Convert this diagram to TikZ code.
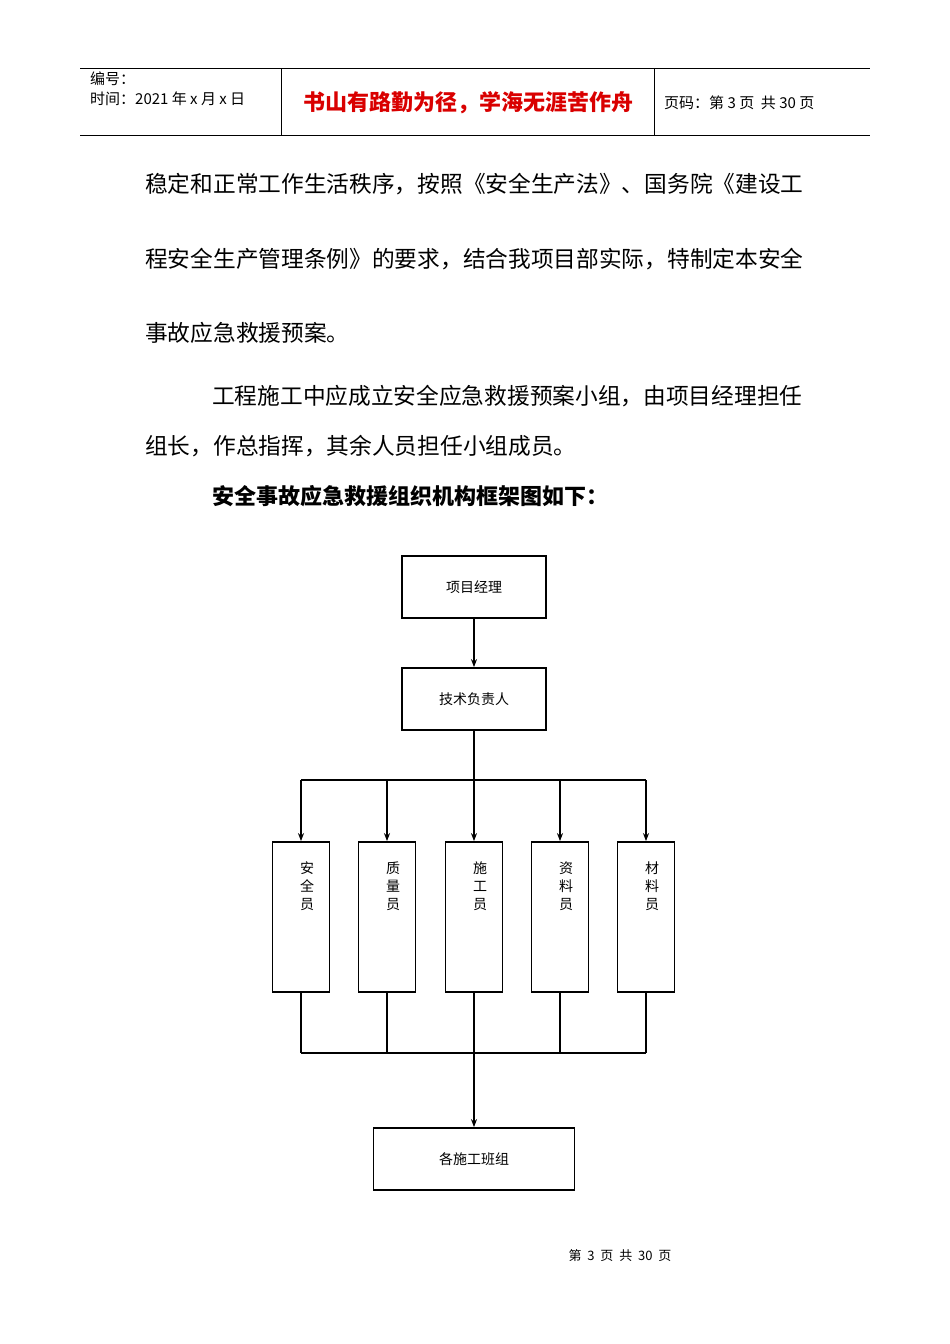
\documentclass[tikz,border=0pt]{standalone}
\usepackage{fontspec}
\setmainfont{Noto Sans CJK SC}
\usetikzlibrary{arrows.meta}
\begin{document}
\begin{tikzpicture}[x=1pt,y=-1pt,
 bx/.style={draw,line width=1.8pt,inner sep=0pt,font=\fontsize{14}{14}\selectfont},
 arr/.style={line width=1.8pt,-{Stealth[length=8pt,width=6pt]}},
 ln/.style={line width=1.8pt},
 body/.style={anchor=west,inner sep=0pt,font=\fontsize{22.7}{22.7}\selectfont}]
\useasboundingbox (0,0) rectangle (950,1344);
% header
\draw[line width=0.6pt] (80,68) -- (870,68) (80,135) -- (870,135) (281,68) -- (281,135) (654,68) -- (654,135);
\node[anchor=west,inner sep=0pt,font=\fontsize{15}{15}\selectfont] (h1) at (90,79) {编号：};
\node[anchor=west,inner sep=0pt,font=\fontsize{15}{15}\selectfont] (h2) at (90,99) {时间：2021 年 x 月 x 日};
\node[inner sep=0pt,text=red!85!black,font=\fontsize{22}{22}\selectfont\bfseries] (h3) at (468,103) {书山有路勤为径，学海无涯苦作舟};
\node[anchor=west,inner sep=0pt,font=\fontsize{15}{15}\selectfont] (h4) at (664,103) {页码：第 3 页\ \ 共 30 页};
% body
\node[body] (t1) at (145,184) {稳定和正常工作生活秩序，按照《安全生产法》、国务院《建设工};
\node[body] (t2) at (145,259) {程安全生产管理条例》的要求，结合我项目部实际，特制定本安全};
\node[body] (t3) at (145,333) {事故应急救援预案。};
\node[body] (t4) at (212,396) {工程施工中应成立安全应急救援预案小组，由项目经理担任};
\node[body] (t5) at (145,446) {组长，作总指挥，其余人员担任小组成员。};
\node[body,font=\fontsize{22}{22}\selectfont\bfseries] (t6) at (212,496) {安全事故应急救援组织机构框架图如下：};
% chart
\node[bx,minimum width=144pt,minimum height=62pt] (pm) at (474,587) {项目经理};
\node[bx,minimum width=144pt,minimum height=62pt] (tech) at (474,699) {技术负责人};
\draw[arr] (pm) -- (tech);
\coordinate (bus) at (474,780);
\draw[ln] (301,780) -- (646,780);
\draw[ln] (tech) -- (bus);
\foreach \n/\x/\t in {a/301/安\\全\\员, b/387/质\\量\\员, c/474/施\\工\\员, d/560/资\\料\\员, e/646/材\\料\\员}{
 \node[bx,minimum width=57pt,minimum height=150pt] (\n) at (\x,917) {};
 \node[anchor=north,align=center,inner sep=0pt,font=\fontsize{14}{18}\selectfont] at (\x+6,862) {\t};
 \draw[arr] (\x,780) -- (\n.north);
 \draw[ln] (\n.south) -- (\x,1053);
}
\draw[ln] (301,1053) -- (646,1053);
\node[bx,minimum width=201pt,minimum height=62pt] (grp) at (474,1159) {各施工班组};
\coordinate (b2) at (474,1053);
\draw[arr] (b2) -- (grp);
\node[inner sep=0pt,font=\fontsize{13}{13}\selectfont] (ft) at (620,1256) {第\ \ 3\ \ 页\ \ 共\ \ 30\ \ 页};
\end{tikzpicture}
\end{document}
